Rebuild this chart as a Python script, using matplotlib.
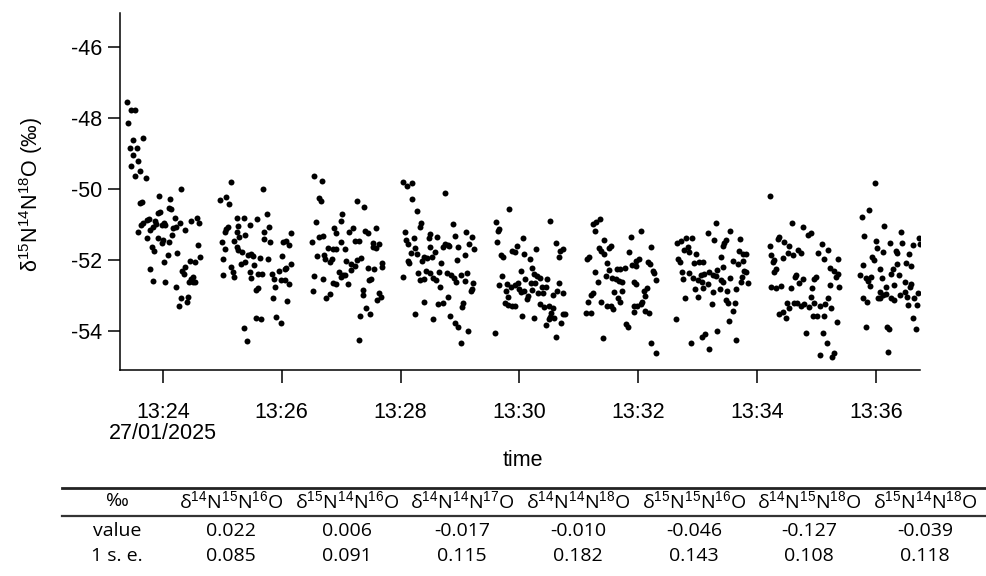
import matplotlib as mpl
mpl.use('agg')
import numpy as np
import pandas as pd
from matplotlib import pyplot as plt
from matplotlib.lines import Line2D

plt.rcParams['font.family'] = ['Liberation Sans', 'DejaVu Sans']
plt.rcParams['mathtext.fontset'] = 'custom'
plt.rcParams['mathtext.rm'] = 'Liberation Sans'
plt.rcParams['mathtext.it'] = 'Liberation Sans:italic'
plt.rcParams['axes.unicode_minus'] = False

# measurement blocks: (minutes after 13:00, delta 15N14N18O in permil)
block_1 = [(23.40, -47.56), (23.47, -47.76), (23.53, -47.77), (23.42, -48.13), (23.49, -48.62),
           (23.67, -48.55), (23.44, -48.85), (23.56, -48.83), (23.50, -49.04), (23.59, -49.20),
           (23.47, -49.35), (23.62, -49.49), (23.54, -49.63), (23.71, -49.68), (24.30, -49.99),
           (23.94, -50.20), (24.12, -50.27), (23.61, -50.38), (23.65, -50.37), (23.95, -50.64),
           (23.92, -50.67), (24.11, -50.54), (24.13, -50.56), (24.20, -50.81), (23.73, -50.87),
           (23.77, -50.85), (23.67, -50.97), (23.63, -51.01), (23.87, -50.90), (23.89, -50.99),
           (24.02, -50.97), (24.03, -51.01), (24.29, -50.95), (24.47, -50.91), (24.57, -50.82),
           (24.61, -50.97), (23.59, -51.20), (23.84, -51.06), (23.79, -51.15), (23.98, -51.01),
           (24.23, -51.06), (24.17, -51.11), (24.37, -51.15), (24.15, -51.30), (23.74, -51.39),
           (23.92, -51.39), (24.01, -51.44), (24.11, -51.48), (23.98, -51.51), (23.81, -51.62),
           (23.85, -51.74), (24.59, -51.58), (24.08, -51.86), (24.24, -51.79), (24.02, -52.05),
           (24.45, -52.02), (24.55, -52.05), (24.62, -51.92), (23.78, -52.26), (24.37, -52.19),
           (24.33, -52.31), (23.84, -52.59), (24.03, -52.61), (24.22, -52.75), (24.35, -52.40),
           (24.50, -52.47), (24.44, -52.61), (24.51, -52.61), (24.48, -52.54), (24.55, -52.61),
           (24.31, -53.08), (24.43, -53.05), (24.41, -53.17), (24.27, -53.30)]
block_2 = [(25.14, -49.79), (25.69, -49.99), (25.07, -50.22), (24.97, -50.31), (25.11, -50.42),
           (25.25, -50.83), (25.36, -50.83), (25.59, -50.85), (25.76, -50.71), (25.10, -51.06),
           (25.07, -51.14), (25.47, -51.01), (25.27, -51.03), (25.24, -51.20), (25.38, -51.30),
           (25.29, -51.34), (25.05, -51.22), (25.79, -51.08), (25.71, -51.20), (24.99, -51.48),
           (25.19, -51.46), (25.70, -51.41), (25.81, -51.49), (26.15, -51.25), (26.02, -51.48),
           (26.08, -51.47), (26.13, -51.58), (25.24, -51.62), (25.34, -51.78), (25.04, -51.69),
           (25.27, -51.72), (25.43, -51.86), (25.52, -51.89), (25.49, -51.84), (25.63, -51.95),
           (25.38, -52.05), (25.32, -52.11), (25.02, -51.97), (25.77, -51.98), (26.01, -51.88),
           (26.16, -52.12), (26.08, -52.23), (25.15, -52.19), (25.18, -52.33), (25.01, -52.42),
           (25.20, -52.47), (25.46, -52.33), (25.53, -52.14), (25.60, -52.40), (25.67, -52.40),
           (25.84, -52.40), (25.96, -52.31), (26.05, -52.26), (25.87, -52.54), (25.99, -52.56),
           (26.05, -52.56), (25.49, -52.50), (26.12, -52.69), (25.88, -52.75), (25.60, -52.78),
           (25.57, -52.85), (25.85, -53.06), (26.09, -53.15), (25.56, -53.62), (25.66, -53.67),
           (25.91, -53.60), (25.99, -53.77), (25.37, -53.91), (25.42, -54.28)]
block_3 = [(26.54, -49.63), (26.68, -49.77), (26.63, -50.24), (26.66, -50.34), (27.27, -50.34),
           (27.38, -50.52), (27.02, -50.71), (26.99, -50.90), (26.57, -50.94), (26.88, -51.09),
           (27.20, -51.11), (27.59, -51.09), (27.14, -51.20), (26.92, -51.25), (27.40, -51.17),
           (27.46, -51.25), (26.70, -51.31), (26.62, -51.36), (26.51, -51.48), (27.00, -51.48),
           (27.23, -51.47), (27.30, -51.47), (27.54, -51.53), (27.63, -51.55), (27.58, -51.67),
           (27.53, -51.62), (26.78, -51.67), (26.86, -51.69), (26.91, -51.69), (27.06, -51.70),
           (26.59, -51.88), (26.72, -51.86), (26.73, -51.98), (26.84, -51.98), (26.81, -52.05),
           (27.09, -52.02), (27.26, -52.00), (27.34, -51.93), (27.17, -52.11), (27.23, -52.17),
           (27.45, -52.22), (27.55, -52.24), (27.68, -52.21), (27.69, -52.08), (26.96, -52.33),
           (27.17, -52.28), (27.03, -52.42), (26.99, -52.49), (27.07, -52.42), (26.54, -52.44),
           (26.70, -52.54), (27.47, -52.56), (27.51, -52.54), (26.86, -52.66), (26.92, -52.68),
           (27.12, -52.69), (26.52, -52.86), (27.37, -52.85), (27.36, -53.00), (26.81, -52.97),
           (26.75, -53.08), (27.64, -52.92), (27.67, -53.03), (27.60, -53.13), (27.42, -53.34),
           (27.49, -53.52), (27.31, -53.58), (27.30, -54.25)]
block_4 = [(28.04, -49.79), (28.11, -49.92), (28.19, -49.82), (28.75, -50.10), (28.20, -50.29),
           (28.28, -50.61), (28.35, -50.95), (28.33, -51.06), (28.89, -50.99), (28.07, -51.20),
           (28.49, -51.27), (28.48, -51.39), (28.62, -51.34), (28.91, -51.32), (29.10, -51.20),
           (29.20, -51.34), (28.10, -51.44), (28.13, -51.55), (28.22, -51.39), (28.74, -51.56),
           (28.80, -51.58), (28.72, -51.64), (28.82, -51.61), (28.96, -51.62), (29.16, -51.56),
           (29.23, -51.70), (28.50, -51.62), (28.58, -51.77), (28.24, -51.67), (28.27, -51.84),
           (28.17, -51.79), (28.40, -51.91), (28.53, -51.91), (28.12, -52.03), (28.15, -52.08),
           (28.36, -52.02), (28.45, -51.95), (28.68, -52.09), (28.95, -52.00), (29.09, -51.86),
           (28.04, -52.47), (28.30, -52.38), (28.43, -52.31), (28.49, -52.38), (28.64, -52.33),
           (28.78, -52.36), (28.85, -52.42), (28.90, -52.52), (29.02, -52.42), (29.12, -52.36),
           (28.32, -52.56), (28.40, -52.54), (28.54, -52.50), (28.60, -52.56), (28.94, -52.61),
           (29.08, -52.59), (29.22, -52.66), (29.18, -52.86), (29.20, -52.83), (28.67, -52.77),
           (28.80, -53.05), (28.63, -53.25), (28.71, -53.22), (29.05, -53.22), (29.04, -53.32),
           (28.39, -53.19), (28.25, -53.52), (28.55, -53.67), (28.84, -53.58), (28.92, -53.77),
           (28.97, -53.88), (29.13, -53.99), (29.02, -54.33)]
block_5 = [(29.83, -50.57), (30.52, -50.90), (29.61, -50.94), (29.66, -51.13), (29.64, -51.17),
           (29.62, -51.48), (30.06, -51.39), (30.61, -51.51), (29.96, -51.61), (29.87, -51.74),
           (29.93, -51.77), (30.28, -51.70), (30.73, -51.70), (30.69, -51.74), (30.67, -51.91),
           (29.69, -51.86), (29.73, -51.92), (30.08, -51.83), (30.17, -51.97), (30.02, -52.30),
           (30.21, -52.22), (30.25, -52.40), (30.30, -52.44), (30.35, -52.50), (30.47, -52.54),
           (29.70, -52.44), (29.66, -52.70), (29.79, -52.69), (29.86, -52.75), (29.92, -52.70),
           (29.97, -52.64), (30.10, -52.54), (30.20, -52.64), (30.27, -52.66), (30.66, -52.64),
           (30.38, -52.77), (30.44, -52.75), (30.00, -52.83), (30.03, -52.89), (30.08, -52.87),
           (30.22, -52.84), (30.31, -52.92), (30.39, -52.92), (30.64, -52.87), (30.73, -52.94),
           (30.56, -52.99), (29.78, -52.87), (29.80, -53.05), (30.14, -53.01), (30.12, -53.11),
           (29.76, -53.20), (29.80, -53.27), (29.87, -53.29), (29.93, -53.30), (30.34, -53.24),
           (30.42, -53.33), (30.50, -53.29), (30.57, -53.36), (30.53, -53.48), (30.73, -53.52),
           (30.77, -53.52), (30.04, -53.58), (30.25, -53.62), (30.52, -53.60), (30.58, -53.62),
           (30.49, -53.67), (30.70, -53.77), (30.45, -53.83), (29.59, -54.05), (30.62, -54.16)]
block_6 = [(31.35, -50.85), (31.29, -50.94), (31.24, -50.99), (31.28, -51.17), (32.05, -51.18),
           (31.87, -51.34), (31.42, -51.44), (31.54, -51.61), (31.51, -51.67), (31.34, -51.67),
           (31.38, -51.74), (31.43, -51.83), (32.22, -51.64), (31.85, -51.78), (31.17, -51.91),
           (31.14, -51.97), (32.01, -51.97), (31.97, -52.03), (32.16, -52.05), (32.20, -52.12),
           (31.47, -52.08), (31.90, -52.14), (31.96, -52.17), (31.77, -52.22), (31.65, -52.24),
           (31.69, -52.24), (31.51, -52.28), (32.25, -52.31), (32.27, -52.36), (31.27, -52.33),
           (31.45, -52.45), (31.56, -52.50), (31.62, -52.54), (31.68, -52.58), (31.73, -52.63),
           (32.29, -52.56), (31.32, -52.61), (31.93, -52.61), (31.97, -52.68), (32.15, -52.80),
           (32.10, -52.86), (31.59, -52.89), (31.73, -52.86), (31.23, -52.92), (31.21, -53.00),
           (32.12, -53.01), (31.66, -53.08), (31.70, -53.17), (31.16, -53.17), (31.38, -53.19),
           (31.48, -53.29), (31.54, -53.31), (31.58, -53.38), (31.93, -53.31), (31.98, -53.29),
           (32.04, -53.24), (32.07, -53.17), (31.92, -53.46), (32.11, -53.43), (32.18, -53.50),
           (31.12, -53.50), (31.20, -53.50), (31.79, -53.80), (31.82, -53.88), (31.41, -54.21),
           (32.22, -54.35), (32.30, -54.63)]
block_7 = [(33.31, -50.97), (33.18, -51.23), (33.55, -51.18), (33.27, -51.44), (33.47, -51.44),
           (33.45, -51.53), (33.43, -51.60), (33.71, -51.41), (32.80, -51.37), (32.90, -51.39),
           (32.66, -51.53), (32.72, -51.47), (32.83, -51.64), (32.77, -51.72), (32.85, -51.78),
           (32.97, -51.83), (33.39, -51.91), (33.70, -51.74), (33.81, -51.83), (33.77, -51.84),
           (32.67, -51.97), (32.71, -52.05), (32.94, -52.09), (33.03, -52.05), (33.09, -52.05),
           (33.60, -52.03), (33.67, -52.12), (33.77, -52.03), (32.73, -52.33), (32.86, -52.38),
           (33.05, -52.42), (33.11, -52.40), (33.19, -52.33), (33.25, -52.42), (33.33, -52.28),
           (33.42, -52.21), (33.78, -52.31), (33.81, -52.33), (33.74, -52.47), (32.75, -52.54),
           (32.92, -52.52), (33.00, -52.56), (33.08, -52.63), (33.17, -52.69), (33.31, -52.45),
           (33.39, -52.56), (33.42, -52.63), (33.54, -52.52), (33.73, -52.61), (33.84, -52.66),
           (32.96, -52.82), (33.09, -52.80), (33.25, -52.89), (33.38, -52.83), (33.50, -52.87),
           (33.64, -52.83), (33.00, -53.03), (32.79, -53.08), (33.47, -53.13), (33.51, -53.20),
           (33.63, -53.22), (33.24, -53.25), (33.59, -53.44), (32.64, -53.66), (33.52, -53.72),
           (33.33, -54.00), (33.13, -54.08), (33.08, -54.16), (32.89, -54.35), (33.64, -54.25),
           (33.19, -54.52)]
block_8 = [(34.22, -50.20), (34.59, -50.97), (34.78, -51.06), (34.90, -51.23), (34.85, -51.30),
           (34.37, -51.36), (34.35, -51.42), (34.45, -51.48), (34.54, -51.61), (35.09, -51.56),
           (35.19, -51.72), (34.21, -51.61), (34.24, -51.86), (34.29, -52.00), (34.26, -52.05),
           (34.43, -51.93), (34.52, -51.81), (34.60, -51.86), (34.68, -51.72), (34.73, -51.79),
           (35.03, -51.81), (35.12, -51.97), (35.36, -51.97), (34.32, -52.26), (34.28, -52.33),
           (35.22, -52.22), (35.29, -52.31), (35.36, -52.40), (35.33, -52.47), (34.66, -52.42),
           (34.63, -52.47), (34.77, -52.54), (34.71, -52.66), (34.99, -52.47), (34.96, -52.54),
           (34.24, -52.77), (34.32, -52.78), (34.40, -52.73), (34.57, -52.78), (34.92, -52.78),
           (35.23, -52.70), (35.38, -52.77), (34.91, -53.03), (35.20, -53.08), (34.50, -53.22),
           (34.62, -53.20), (34.67, -53.22), (34.73, -53.29), (34.79, -53.24), (34.88, -53.32),
           (34.96, -53.22), (35.05, -53.29), (35.14, -53.25), (35.25, -53.36), (34.54, -53.36),
           (34.43, -53.46), (34.37, -53.53), (34.49, -53.62), (34.94, -53.58), (35.01, -53.58),
           (35.13, -53.58), (35.34, -53.74), (34.82, -54.05), (35.10, -54.05), (35.18, -54.35),
           (35.06, -54.68), (35.29, -54.63), (35.26, -54.72)]
block_9 = [(35.98, -49.82), (35.89, -50.59), (35.76, -50.80), (36.13, -51.03), (36.42, -51.22),
           (35.80, -51.32), (36.00, -51.46), (36.24, -51.51), (36.44, -51.53), (36.72, -51.39),
           (36.63, -51.58), (36.74, -51.55), (36.02, -51.67), (36.12, -51.77), (36.34, -51.75),
           (36.36, -51.81), (36.55, -51.84), (35.94, -51.92), (35.97, -52.00), (36.36, -52.12),
           (36.50, -52.09), (36.59, -52.16), (35.78, -52.14), (36.06, -52.24), (36.28, -52.25),
           (36.25, -52.39), (36.39, -52.42), (35.73, -52.42), (35.83, -52.52), (35.87, -52.58),
           (35.92, -52.47), (36.10, -52.52), (35.90, -52.72), (36.16, -52.75), (36.31, -52.70),
           (36.49, -52.63), (36.59, -52.68), (36.58, -52.75), (36.06, -52.89), (36.11, -52.99),
           (36.17, -52.97), (36.07, -53.06), (35.78, -53.06), (35.85, -53.17), (36.03, -53.06),
           (36.25, -53.06), (36.31, -53.13), (36.41, -52.99), (36.48, -52.89), (36.52, -53.05),
           (36.64, -53.06), (36.70, -52.92), (36.53, -53.27), (36.69, -53.27), (36.62, -53.64),
           (36.67, -53.94), (35.83, -53.88), (36.19, -53.88), (36.22, -53.93), (36.21, -54.58)]

tick_minutes = [24, 26, 28, 30, 32, 34, 36]
tick_labels = ['13:24\n27/01/2025', '13:26', '13:28', '13:30', '13:32', '13:34', '13:36']

# summary table below the plot
table_head = ['‰',
              'δ$^{14}$N$^{15}$N$^{16}$O', 'δ$^{15}$N$^{14}$N$^{16}$O', 'δ$^{14}$N$^{14}$N$^{17}$O',
              'δ$^{14}$N$^{14}$N$^{18}$O', 'δ$^{15}$N$^{15}$N$^{16}$O', 'δ$^{14}$N$^{15}$N$^{18}$O',
              'δ$^{15}$N$^{14}$N$^{18}$O']
table_value = ['value', '0.022', '0.006', '-0.017', '-0.010', '-0.046', '-0.127', '-0.039']
table_se = ['1 s. e.', '0.085', '0.091', '0.115', '0.182', '0.143', '0.108', '0.118']

start = pd.Timestamp('2025-01-27 13:00')


def to_time(minutes):
    return start + pd.to_timedelta(np.asarray(minutes), unit='min')


def main():
    fig = plt.figure(figsize=(9.87, 5.76), dpi=100)
    ax = fig.add_axes([0.1216, 0.3576, 0.8105, 0.6198])

    for block in [block_1, block_2, block_3, block_4, block_5, block_6, block_7, block_8, block_9]:
        arr = np.array(block)
        ax.plot(to_time(arr[:, 0]), arr[:, 1], 'o', color='black', ms=4.3, mew=0)

    ax.set_xlim(start + pd.Timedelta(minutes=23.28), start + pd.Timedelta(minutes=36.74))
    ax.set_ylim(-55.1, -45.04)
    ax.set_yticks([-54, -52, -50, -48, -46])
    ax.set_xticks(to_time(tick_minutes), labels=tick_labels)
    for lab in ax.get_xticklabels():
        lab.set_linespacing(1.0)

    for side in ['top', 'right']:
        ax.spines[side].set_visible(False)
    for side in ['left', 'bottom']:
        ax.spines[side].set_linewidth(1.1)
    ax.tick_params(axis='both', direction='out', length=9, width=1.1, labelsize=15.5)
    ax.tick_params(axis='y', pad=4)
    ax.tick_params(axis='x', pad=14)

    ax.set_xlabel('time', fontsize=15.5)
    ax.xaxis.set_label_coords(0.504, -0.225)
    ax.set_ylabel('δ$^{15}$N$^{14}$N$^{18}$O (‰)', fontsize=15.5)
    ax.yaxis.set_label_coords(-0.094, 0.49)

    # table
    fig.add_artist(Line2D([0.063, 0.998], [0.1528, 0.1528], color='#222222', lw=2.0))
    fig.add_artist(Line2D([0.063, 0.998], [0.1033, 0.1033], color='#333333', lw=1.6))
    col_x = [117, 231, 347, 462, 578, 694, 809, 925]
    for row, ypos in [(table_head, 0.1302), (table_value, 0.0781), (table_se, 0.0347)]:
        for text, xp in zip(row, col_x):
            fig.text(xp / 987, ypos, text, ha='center', va='center', fontsize=14,
                     family=['Open Sans', 'DejaVu Sans'])

    fig.savefig('out.png', dpi=100)


if __name__ == '__main__':
    main()
